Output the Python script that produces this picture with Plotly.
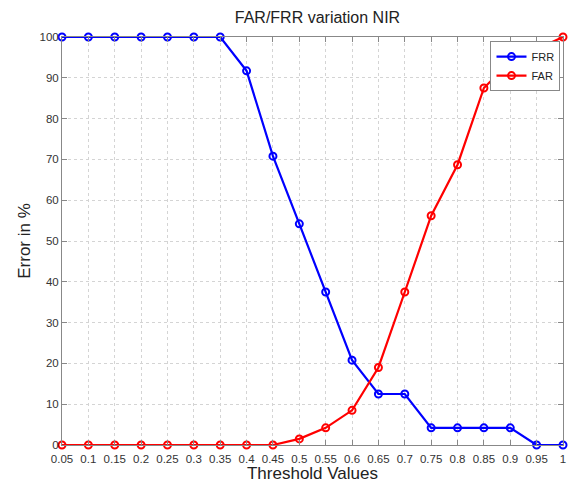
import plotly.graph_objects as go

thresholds = [0.05, 0.1, 0.15, 0.2, 0.25, 0.3, 0.35, 0.4, 0.45, 0.5,
              0.55, 0.6, 0.65, 0.7, 0.75, 0.8, 0.85, 0.9, 0.95, 1.0]
frr = [100, 100, 100, 100, 100, 100, 100, 91.7, 70.8, 54.2,
       37.5, 20.8, 12.5, 12.5, 4.2, 4.2, 4.2, 4.2, 0, 0]
far = [0, 0, 0, 0, 0, 0, 0, 0, 0, 1.5,
       4.2, 8.5, 19, 37.5, 56.2, 68.7, 87.5, 94, 97, 100]
tick_labels = ["0.05", "0.1", "0.15", "0.2", "0.25", "0.3", "0.35", "0.4", "0.45", "0.5",
               "0.55", "0.6", "0.65", "0.7", "0.75", "0.8", "0.85", "0.9", "0.95", "1"]
y_ticks = list(range(0, 101, 10))

fig = go.Figure()
fig.add_trace(go.Scatter(x=thresholds, y=frr, name="FRR", mode="lines+markers",
                         line=dict(color="#0000ff", width=2.2),
                         marker=dict(symbol="circle-open", size=7, color="#0000ff", line=dict(width=2)),
                         cliponaxis=False))
fig.add_trace(go.Scatter(x=thresholds, y=far, name="FAR", mode="lines+markers",
                         line=dict(color="#ff0000", width=2.2),
                         marker=dict(symbol="circle-open", size=7, color="#ff0000", line=dict(width=2)),
                         cliponaxis=False))

fig.update_layout(
    width=572, height=483,
    margin=dict(l=62, r=6, t=37, b=37),
    paper_bgcolor="white", plot_bgcolor="white",
    font=dict(family="Arial, Liberation Sans, sans-serif", color="#222"),
    title=dict(text="FAR/FRR variation NIR", x=0.555, xanchor="center", y=0.975, yanchor="top",
               font=dict(size=16, color="#222")),
    xaxis=dict(range=[0.05, 1.0], tickvals=thresholds, ticktext=tick_labels,
               showgrid=True, gridcolor="#d4d4d4", griddash="dot", gridwidth=1,
               showline=True, linecolor="#888", linewidth=1, mirror="ticks",
               ticks="inside", ticklen=5, tickcolor="#888", ticklabelstandoff=3,
               tickfont=dict(size=11.5, color="#333"), zeroline=False,
               title=dict(text="Threshold Values", font=dict(size=17, color="#222"), standoff=0)),
    yaxis=dict(range=[0, 100], tickvals=y_ticks,
               showgrid=True, gridcolor="#d4d4d4", griddash="dot", gridwidth=1,
               showline=True, linecolor="#888", linewidth=1, mirror="ticks",
               ticks="inside", ticklen=5, tickcolor="#888",
               tickfont=dict(size=11.5, color="#333"), zeroline=False,
               title=dict(text="Error in %", font=dict(size=17, color="#222"), standoff=4)),
    legend=dict(x=0.995, y=0.99, xanchor="right", yanchor="top",
                bgcolor="white", bordercolor="#888", borderwidth=1,
                font=dict(size=11, color="#222"),
                tracegroupgap=0),
    showlegend=True,
)

fig.write_html("out.html")
